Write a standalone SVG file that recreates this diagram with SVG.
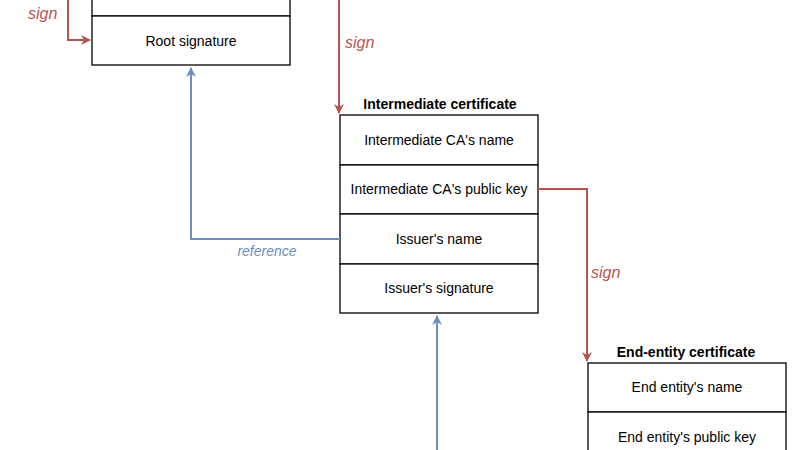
<svg xmlns="http://www.w3.org/2000/svg" width="800" height="450" viewBox="0 0 800 450">
<style>
.box{fill:#fff;stroke:#000;stroke-width:1.3}
.t{font-family:"Liberation Sans",Arial,sans-serif;font-size:14px;text-anchor:middle;fill:#000}
.b{font-weight:bold}
.r{fill:none;stroke:#b85450;stroke-width:2}
.bl{fill:none;stroke:#6c8ebf;stroke-width:2}
.lr{font-family:"Liberation Sans",Arial,sans-serif;font-style:italic;font-size:16px;fill:#b85450}
.lb{font-family:"Liberation Sans",Arial,sans-serif;font-style:italic;font-size:14px;fill:#6c8ebf;text-anchor:middle}
</style>
<defs>
<marker id="ar" viewBox="0 0 10 10" refX="9" refY="5" markerWidth="5" markerHeight="5" orient="auto"><path d="M0,0L10,5L0,10L3,5Z" fill="#b85450"/></marker>
<marker id="ab" viewBox="0 0 10 10" refX="9" refY="5" markerWidth="5" markerHeight="5" orient="auto"><path d="M0,0L10,5L0,10L3,5Z" fill="#6c8ebf"/></marker>
</defs>
<g id="root">
<rect class="box" x="92" y="-34" width="198" height="50"/>
<rect class="box" x="92" y="16" width="198" height="49"/>
<text class="t" x="191" y="46">Root signature</text>
</g>
<g id="intermediate">
<text class="t b" x="440" y="109">Intermediate certificate</text>
<rect class="box" x="340" y="115" width="198" height="50"/>
<text class="t" x="439" y="145">Intermediate CA's name</text>
<rect class="box" x="340" y="165" width="198" height="49"/>
<text class="t" x="439" y="194">Intermediate CA's public key</text>
<rect class="box" x="340" y="214" width="198" height="50"/>
<text class="t" x="439" y="244">Issuer's name</text>
<rect class="box" x="340" y="264" width="198" height="49"/>
<text class="t" x="439" y="293">Issuer's signature</text>
</g>
<g id="endentity">
<text class="t b" x="686" y="357">End-entity certificate</text>
<rect class="box" x="588" y="363" width="198" height="49"/>
<text class="t" x="687" y="392">End entity's name</text>
<rect class="box" x="588" y="412" width="198" height="50"/>
<text class="t" x="687" y="442">End entity's public key</text>
</g>
<g id="connectors">
<path class="r" d="M68,-5V40H90" marker-end="url(#ar)"/>
<text class="lr" x="28" y="19">sign</text>
<path class="r" d="M339,0V113" marker-end="url(#ar)"/>
<text class="lr" x="345" y="48">sign</text>
<path class="bl" d="M340,239H191V68" marker-end="url(#ab)"/>
<text class="lb" x="267" y="256">reference</text>
<path class="r" d="M538,189H587V361" marker-end="url(#ar)"/>
<text class="lr" x="591" y="278">sign</text>
<path class="bl" d="M437,450V316" marker-end="url(#ab)"/>
</g>
</svg>
